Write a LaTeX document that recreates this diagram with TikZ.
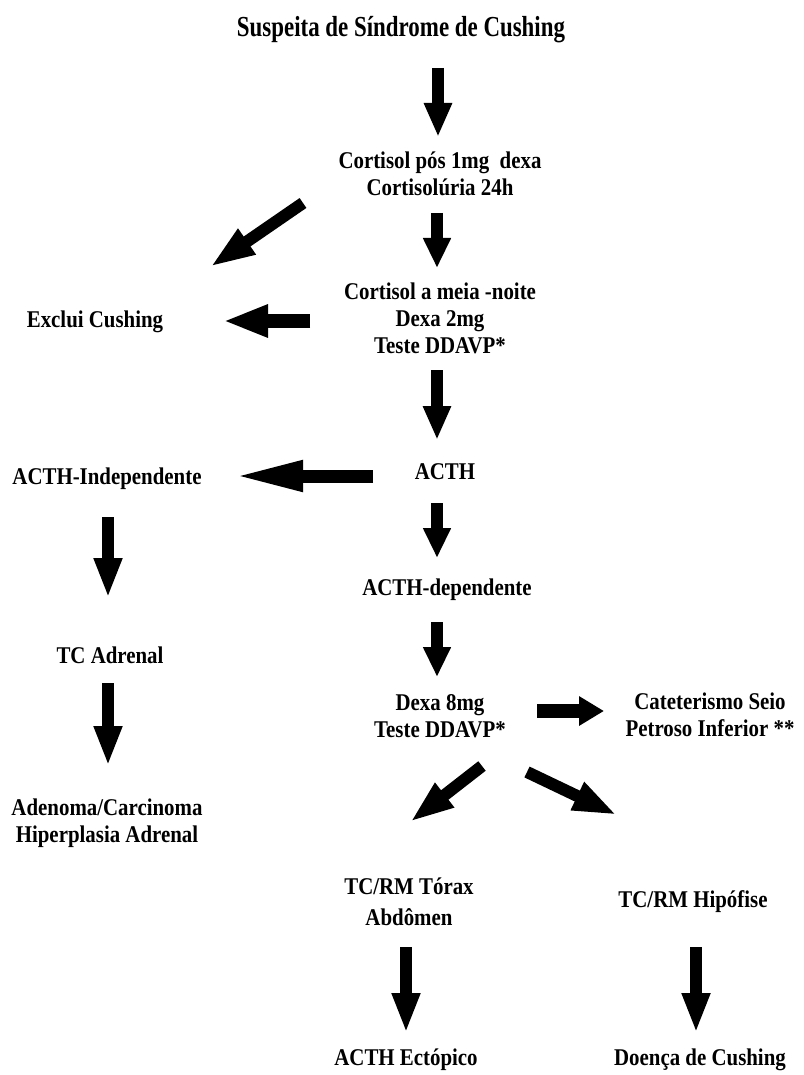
\documentclass[tikz,border=0pt]{standalone}
\usepackage{fontspec}
\setmainfont{Liberation Serif}[FakeStretch=0.87]
\newfontfamily\titlefont{Liberation Serif}[FakeStretch=0.79]
\usetikzlibrary{arrows.meta}
\tikzset{
  lbl/.style={align=center, inner sep=0pt, font=\fontsize{24}{27}\selectfont\bfseries},
  ttl/.style={inner sep=0pt, font=\titlefont\fontsize{29}{32}\selectfont\bfseries},
  bigarrow/.style={line width=12pt, -{Triangle[width=26pt, length=34pt]}},
  harrow/.style={line width=14pt, -{Triangle[width=30pt, length=40pt]}},
}
\begin{document}
\begin{tikzpicture}[x=1pt, y=-1pt]
\useasboundingbox (0,0) rectangle (803,1075);
% texts
\node[ttl] (title) at (401,30) {Suspeita de Síndrome de Cushing};
\node[lbl] (c1) at (440,174) {Cortisol pós 1mg\ \ dexa\\Cortisolúria 24h};
\node[lbl] (c2) at (440,318) {Cortisol a meia -noite\\Dexa 2mg\\Teste DDAVP*};
\node[lbl] (ex) at (95,322) {Exclui Cushing};
\node[lbl] (acth) at (445,472) {ACTH};
\node[lbl] (ind) at (107,479) {ACTH-Independente};
\node[lbl] (dep) at (447,590) {ACTH-dependente};
\node[lbl] (tca) at (110,655) {TC Adrenal};
\node[lbl] (aden) at (107,823) {Adenoma/Carcinoma\\Hiperplasia Adrenal};
\node[lbl] (d8) at (440,716) {Dexa 8mg\\Teste DDAVP*};
\node[lbl] (cat) at (710,715) {Cateterismo Seio\\Petroso Inferior **};
\node[lbl, font=\fontsize{24}{31}\selectfont\bfseries] (tor) at (409,902) {TC/RM Tórax\\Abdômen};
\node[lbl] (hip) at (693,902) {TC/RM Hipófise};
\node[lbl] (ect) at (406,1060) {ACTH Ectópico};
\node[lbl] (doe) at (700,1060) {Doença de Cushing};
% arrow end points
\coordinate (a1s) at (438,68);   \coordinate (a1e) at (438,137);
\coordinate (a2s) at (303,203);  \coordinate (a2e) at (210,267);
\coordinate (a3s) at (437,213);  \coordinate (a3e) at (437,268);
\coordinate (a4s) at (310,321);  \coordinate (a4e) at (223,321);
\coordinate (a5s) at (437,370);  \coordinate (a5e) at (437,440);
\coordinate (a6s) at (373,476);  \coordinate (a6e) at (233,476);
\coordinate (a7s) at (108,517);  \coordinate (a7e) at (108,598);
\coordinate (a8s) at (437,503);  \coordinate (a8e) at (437,558);
\coordinate (a9s) at (437,622);  \coordinate (a9e) at (437,677);
\coordinate (a10s) at (108,683); \coordinate (a10e) at (108,766);
\coordinate (a11s) at (537,711); \coordinate (a11e) at (604,711);
\coordinate (a12s) at (482,766); \coordinate (a12e) at (410,822);
\coordinate (a13s) at (527,772); \coordinate (a13e) at (617,815);
\coordinate (a14s) at (406,947); \coordinate (a14e) at (406,1033);
\coordinate (a15s) at (696,947); \coordinate (a15e) at (696,1033);
% arrows
\draw[bigarrow] (a1s) -- (a1e);
\draw[bigarrow, -{Triangle[width=28pt, length=45pt]}] (a2s) -- (a2e);
\draw[bigarrow, -{Triangle[width=26pt, length=30pt]}] (a3s) -- (a3e);
\draw[harrow, -{Triangle[width=30pt, length=45pt]}] (a4s) -- (a4e);
\draw[bigarrow] (a5s) -- (a5e);
\draw[harrow, line width=13pt, -{Triangle[width=28pt, length=70pt]}] (a6s) -- (a6e);
\draw[bigarrow, -{Triangle[width=26pt, length=40pt]}] (a7s) -- (a7e);
\draw[bigarrow, -{Triangle[width=26pt, length=30pt]}] (a8s) -- (a8e);
\draw[bigarrow, -{Triangle[width=26pt, length=30pt]}] (a9s) -- (a9e);
\draw[bigarrow, -{Triangle[width=26pt, length=40pt]}] (a10s) -- (a10e);
\draw[harrow, -{Triangle[width=28pt, length=25pt]}] (a11s) -- (a11e);
\draw[bigarrow, -{Triangle[width=28pt, length=44pt]}] (a12s) -- (a12e);
\draw[bigarrow, -{Triangle[width=28pt, length=44pt]}] (a13s) -- (a13e);
\draw[bigarrow, -{Triangle[width=26pt, length=40pt]}] (a14s) -- (a14e);
\draw[bigarrow, -{Triangle[width=26pt, length=40pt]}] (a15s) -- (a15e);
\end{tikzpicture}
\end{document}
